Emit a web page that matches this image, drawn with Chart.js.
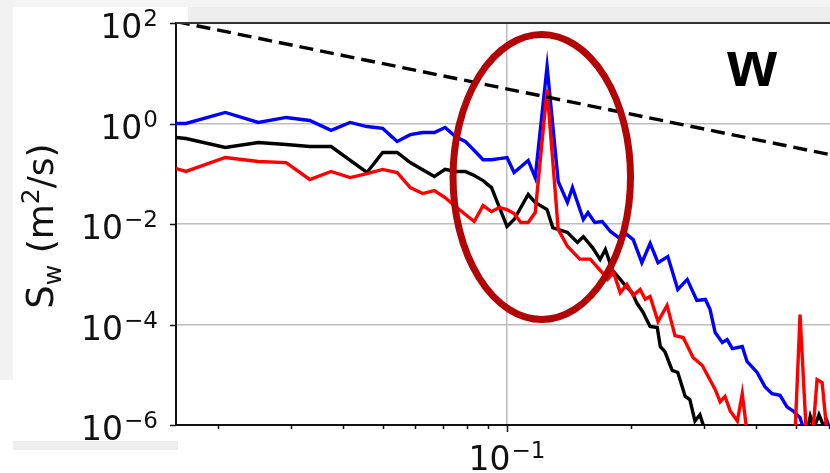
<!DOCTYPE html>
<html>
<head>
<meta charset="utf-8">
<script src="https://cdn.jsdelivr.net/npm/chart.js@4"></script>
<style>
  html, body { margin: 0; padding: 0; background: #fff; }
  #wrap { width: 830px; height: 473px; }
</style>
</head>
<body>
<div id="wrap"><canvas id="specChart" width="830" height="473"></canvas></div>
<script>
// vertical velocity spectra, three runs + -5/3 reference slope
const freqBlue = [0.0158, 0.0167, 0.0208, 0.025, 0.0292, 0.0333, 0.0375, 0.0417, 0.0458, 0.05, 0.0542, 0.0583, 0.0625, 0.0667, 0.0708, 0.075, 0.0792, 0.0833, 0.0875, 0.0917, 0.0958, 0.1, 0.104, 0.1125, 0.117, 0.125, 0.133, 0.140, 0.144, 0.153, 0.157, 0.163, 0.170, 0.178, 0.186, 0.195, 0.202, 0.212, 0.222, 0.232, 0.245, 0.259, 0.273, 0.288, 0.302, 0.310, 0.319, 0.332, 0.341, 0.351, 0.371, 0.381, 0.403, 0.421, 0.438, 0.458, 0.476, 0.493, 0.512, 0.521, 0.557, 0.595, 0.605];
const specBlue = [1.0, 1.0, 1.66, 1.05, 1.32, 1.15, 0.73, 1.05, 0.87, 0.80, 0.44, 0.60, 0.66, 0.66, 0.83, 0.55, 0.44, 0.29, 0.19, 0.19, 0.20, 0.21, 0.106, 0.184, 0.084, 13.6, 0.070, 0.027, 0.053, 0.0123, 0.0169, 0.0107, 0.0112, 0.0071, 0.0054, 0.0062, 0.0049, 0.0017, 0.0041, 0.0017, 0.00225, 0.0005, 0.00079, 0.0003, 0.000315, 0.0002, 0.000069, 0.000044, 0.00005, 0.000033, 0.0000365, 0.0000184, 0.0000111, 0.0000058, 0.0000042, 0.0000039, 0.0000023, 0.0000019, 0.0000014, 0.00000089, 0.0000005, 0.0000012, 0.0000008];

const freqBlack = [0.0158, 0.0167, 0.0208, 0.025, 0.0292, 0.0333, 0.0375, 0.0458, 0.05, 0.0542, 0.0583, 0.0667, 0.0708, 0.075, 0.0792, 0.0833, 0.0875, 0.0917, 0.1, 0.104, 0.1125, 0.117, 0.125, 0.129, 0.140, 0.148, 0.153, 0.161, 0.168, 0.173, 0.180, 0.188, 0.195, 0.201, 0.206, 0.213, 0.222, 0.231, 0.235, 0.241, 0.251, 0.259, 0.270, 0.277, 0.285, 0.293, 0.302, 0.40, 0.527, 0.542, 0.554, 0.569, 0.586, 0.605];
const specBlack = [0.526, 0.503, 0.333, 0.419, 0.382, 0.348, 0.348, 0.106, 0.265, 0.265, 0.167, 0.088, 0.122, 0.111, 0.111, 0.092, 0.073, 0.053, 0.0089, 0.0123, 0.0386, 0.0268, 0.0194, 0.0085, 0.0068, 0.0043, 0.0056, 0.0034, 0.00197, 0.0031, 0.0012, 0.00079, 0.00055, 0.00043, 0.00027, 0.00018, 0.000091, 0.000087, 0.000036, 0.000029, 0.0000122, 0.0000111, 0.0000037, 0.0000032, 0.0000012, 0.0000016, 0.00000074, null, 0.0000005, 0.0000015, 0.00000089, 0.0000016, 0.00000089, 0.0000005];

const freqRed = [0.0158, 0.0167, 0.0208, 0.025, 0.0292, 0.0333, 0.0375, 0.0417, 0.0458, 0.05, 0.0542, 0.0583, 0.0625, 0.0667, 0.0708, 0.075, 0.0833, 0.0875, 0.0917, 0.0958, 0.1, 0.104, 0.108, 0.1125, 0.117, 0.125, 0.133, 0.140, 0.150, 0.159, 0.170, 0.175, 0.181, 0.188, 0.195, 0.202, 0.210, 0.216, 0.222, 0.232, 0.244, 0.255, 0.267, 0.282, 0.297, 0.305, 0.319, 0.328, 0.337, 0.347, 0.361, 0.371, 0.381, 0.44, 0.498, 0.512, 0.530, 0.548, 0.563, 0.579, 0.595];
const specRed = [0.127, 0.111, 0.211, 0.175, 0.167, 0.0769, 0.111, 0.084, 0.101, 0.122, 0.106, 0.053, 0.0404, 0.0464, 0.0337, 0.0223, 0.0112, 0.0233, 0.0177, 0.0213, 0.0194, 0.0162, 0.0107, 0.0107, 0.0169, 4.75, 0.0078, 0.0036, 0.002, 0.002, 0.00108, 0.00079, 0.00108, 0.00043, 0.00063, 0.00038, 0.0005, 0.00032, 0.00036, 0.000115, 0.00024, 0.00006, 0.000055, 0.000022, 0.0000153, 0.0000101, 0.0000051, 0.0000029, 0.0000037, 0.0000019, 0.0000012, 0.0000042, 0.0000007, null, 0.0000007, 0.000158, 0.0000007, 0.0000005, 0.000008, 0.000007, 0.0000007];

// -5/3 guide line end points
const refFreq = [0.0158, 0.605];
const refSpec = [107, 0.24];

// axis ticks (exponents are what gets printed)
const yTickExps = [-6, -4, -2, 0, 2];
const xMajorTicks = [0.1];
const xMinorTicks = [0.02, 0.03, 0.04, 0.05, 0.06, 0.07, 0.08, 0.09, 0.2, 0.3, 0.4, 0.5, 0.6];

// highlight ring around the peak, in data units
const ringBox = { fLeft: 0.074, fRight: 0.199, sTop: 59, sBottom: 0.000126 };
const panelTag = { text: 'w', f: 0.392, s: 5.45 };

const FONT = '"DejaVu Sans"';
const TXT = '#111';

function pts(xs, ys) {
  return xs.map((x, i) => ({ x: x, y: ys[i] }));
}

function drawPow(c, exp, x, base, align) {
  const sup = exp < 0 ? '\u2212' + Math.abs(exp) : String(exp);
  c.font = '33px ' + FONT;
  const wMain = c.measureText('10').width;
  c.font = '23px ' + FONT;
  const wSup = c.measureText(sup).width;
  const total = wMain + 1 + wSup;
  const x0 = align === 'right' ? x - total : x - total / 2;
  c.textAlign = 'left';
  c.textBaseline = 'alphabetic';
  c.fillStyle = TXT;
  c.font = '33px ' + FONT;
  c.fillText('10', x0, base);
  c.font = '23px ' + FONT;
  c.fillText(sup, x0 + wMain + 1, base - 12);
}

function drawYTitle(c, cx, cy) {
  // S_w (m^2/s), rotated
  const parts = [
    { t: 'S', size: 37, dy: 0 },
    { t: 'w', size: 25, dy: 8 },
    { t: ' (m', size: 36, dy: 0 },
    { t: '2', size: 25, dy: -14 },
    { t: '/s)', size: 36, dy: 0 }
  ];
  c.save();
  c.translate(cx, cy);
  c.rotate(-Math.PI / 2);
  let total = 0;
  parts.forEach(p => { c.font = p.size + 'px ' + FONT; p.w = c.measureText(p.t).width; total += p.w; });
  let x = -total / 2;
  c.fillStyle = TXT;
  c.textAlign = 'left';
  c.textBaseline = 'alphabetic';
  parts.forEach(p => {
    c.font = p.size + 'px ' + FONT;
    c.fillText(p.t, x, p.dy);
    x += p.w;
  });
  c.restore();
}

const decor = {
  id: 'decor',
  beforeDraw(chart) {
    const c = chart.ctx;
    c.save();
    c.fillStyle = '#ffffff';
    c.fillRect(0, 0, chart.width, chart.height);
    c.fillStyle = '#f4f4f4';
    c.fillRect(0, 0, chart.width, 7);
    c.fillStyle = '#eeeeee';
    c.fillRect(188, 7, chart.width - 188, 15);
    c.fillStyle = '#f2f2f2';
    c.fillRect(0, 0, 13, 380);
    c.fillStyle = '#eeeeee';
    c.fillRect(13, 441, 165, 9);
    c.restore();
  },
  afterDatasetsDraw(chart) {
    const c = chart.ctx;
    const xs = chart.scales.x, ys = chart.scales.y;
    const l = xs.getPixelForValue(ringBox.fLeft), r = xs.getPixelForValue(ringBox.fRight);
    const t = ys.getPixelForValue(ringBox.sTop), b = ys.getPixelForValue(ringBox.sBottom);
    c.save();
    c.strokeStyle = '#b30505';
    c.lineWidth = 7;
    c.beginPath();
    c.ellipse((l + r) / 2, (t + b) / 2, (r - l) / 2, (b - t) / 2, 0, 0, Math.PI * 2);
    c.stroke();
    c.restore();
  },
  afterDraw(chart) {
    const c = chart.ctx;
    const area = chart.chartArea;
    const xs = chart.scales.x, ys = chart.scales.y;
    c.save();
    // top spine
    c.strokeStyle = '#333';
    c.lineWidth = 2;
    c.beginPath();
    c.moveTo(area.left, area.top);
    c.lineTo(area.right, area.top);
    c.stroke();
    // tick marks
    c.strokeStyle = '#111';
    c.lineWidth = 1.5;
    c.beginPath();
    xMajorTicks.forEach(v => {
      const px = Math.round(xs.getPixelForValue(v)) + 0.5;
      c.moveTo(px, area.bottom); c.lineTo(px, area.bottom + 7);
    });
    xMinorTicks.forEach(v => {
      const px = Math.round(xs.getPixelForValue(v)) + 0.5;
      if (px <= area.right) { c.moveTo(px, area.bottom); c.lineTo(px, area.bottom + 4); }
    });
    yTickExps.forEach(e => {
      const py = Math.round(ys.getPixelForValue(Math.pow(10, e))) + 0.5;
      c.moveTo(area.left - 6, py); c.lineTo(area.left, py);
    });
    c.stroke();
    // tick labels
    yTickExps.forEach(e => {
      const py = ys.getPixelForValue(Math.pow(10, e));
      drawPow(c, e, 158, py + 15, 'right');
    });
    xMajorTicks.forEach(v => {
      drawPow(c, Math.round(Math.log10(v)), xs.getPixelForValue(v), area.bottom + 45, 'center');
    });
    drawYTitle(c, 53, 226);
    // panel tag
    c.fillStyle = '#000';
    c.font = 'bold 64px "Liberation Sans"';
    c.textAlign = 'center';
    c.textBaseline = 'alphabetic';
    c.fillText(panelTag.text, xs.getPixelForValue(panelTag.f), ys.getPixelForValue(panelTag.s));
    c.restore();
  }
};

function series(label, xs, ys, color, order, extra) {
  return Object.assign({
    label: label,
    data: pts(xs, ys),
    borderColor: color,
    backgroundColor: color,
    order: order,
    pointRadius: 0,
    borderWidth: 3.4,
    tension: 0,
    fill: false
  }, extra || {});
}

const specChart = new Chart(document.getElementById('specChart'), {
  type: 'line',
  data: {
    datasets: [
      series('ref', refFreq, refSpec, '#000000', 0, { borderDash: [14, 7], borderWidth: 3.4 }),
      series('red', freqRed, specRed, '#ff0000', 1),
      series('black', freqBlack, specBlack, '#000000', 2),
      series('blue', freqBlue, specBlue, '#0000ff', 3)
    ]
  },
  options: {
    responsive: false,
    devicePixelRatio: 1,
    animation: false,
    events: [],
    layout: { padding: { top: 23, left: 0, right: 0, bottom: 0 } },
    elements: { line: { borderWidth: 3.4 } },
    plugins: { legend: { display: false }, tooltip: { enabled: false }, title: { display: false } },
    scales: {
      x: {
        type: 'logarithmic',
        min: 0.0158,
        max: 0.605,
        afterBuildTicks: s => { s.ticks = xMajorTicks.map(v => ({ value: v })); },
        afterFit: s => { s.height = 48; },
        ticks: { display: false },
        grid: { color: '#bdbdbd', lineWidth: 1.5, drawTicks: false },
        border: { color: '#111', width: 2 }
      },
      y: {
        type: 'logarithmic',
        min: 1e-6,
        max: 1e2,
        afterBuildTicks: s => { s.ticks = yTickExps.map(e => ({ value: Math.pow(10, e) })); },
        afterFit: s => { s.width = 176; },
        ticks: { display: false },
        grid: { color: '#bdbdbd', lineWidth: 1.5, drawTicks: false },
        border: { color: '#111', width: 2 }
      }
    }
  },
  plugins: [decor]
});
</script>
</body>
</html>
